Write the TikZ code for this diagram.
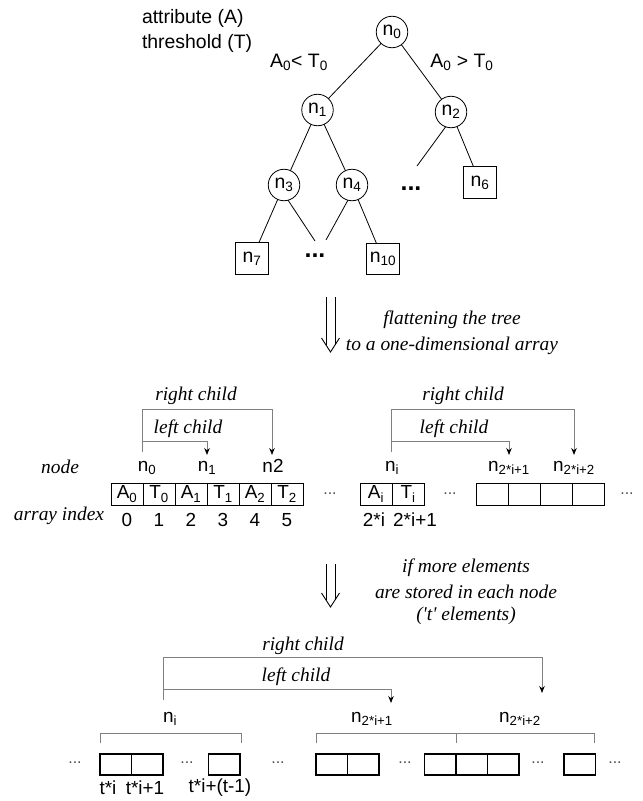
\documentclass[tikz,border=0pt]{standalone}
\usepackage{fontspec}
\setmainfont{Liberation Sans}
\newfontfamily\capfont{Liberation Serif}
\usetikzlibrary{arrows.meta}
\newcommand\subs[1]{\textsubscript{#1}}

\begin{document}
\begin{tikzpicture}[x=1bp,y=-1bp,
  every node/.style={inner sep=0pt,outer sep=0pt},
  treetxt/.style={font=\fontsize{19.5}{22}\selectfont},
  innernode/.style={treetxt,draw,circle,line width=0.8bp,minimum size=31.5bp},
  leafnode/.style={treetxt,draw,rectangle,line width=0.9bp,minimum width=33bp,minimum height=31.5bp},
  treeedge/.style={line width=0.8bp},
  tdots/.style={font=\fontsize{25}{26}\selectfont\bfseries},
  captxt/.style={font=\capfont\itshape\fontsize{19.5}{22}\selectfont},
  atxt/.style={font=\fontsize{19}{22}\selectfont},
  adots/.style={font=\fontsize{16}{18}\selectfont,text=black!70},
  cell/.style={atxt,draw,line width=0.9bp,minimum width=32bp,minimum height=22bp},
  bcell/.style={draw,line width=1.6bp,minimum width=31.5bp,minimum height=21bp},
  childlink/.style={draw=black!50,line width=1bp,-{Stealth[length=7bp,width=5.5bp,black]}},
  bracketline/.style={draw=black!50,line width=1bp},
  dbl/.style={line width=0.9bp}
  ]
\useasboundingbox (0,0) rectangle (643,801);

% ---------------- decision tree ----------------
\node[treetxt,anchor=west] (lblA) at (142,18) {attribute (A)};
\node[treetxt,anchor=west] (lblT) at (142,43) {threshold (T)};

\node[innernode] (n0) at (392,32) {n\subs{0}};
\node[innernode] (n1) at (317.5,110) {n\subs{1}};
\node[innernode] (n2) at (451,112) {n\subs{2}};
\node[innernode] (n3) at (284,185) {n\subs{3}};
\node[innernode] (n4) at (352,185) {n\subs{4}};
\node[tdots] (d1) at (411,189) {...};
\node[leafnode] (n6) at (480,182.5) {n\subs{6}};
\node[leafnode] (n7) at (252,258.5) {n\subs{7}};
\node[tdots] (d2) at (315,256) {...};
\node[leafnode] (n10) at (383,259) {n\subs{10}};

\node[treetxt] (cl) at (299,62) {A\subs{0}< T\subs{0}};
\node[treetxt] (cr) at (462,62) {A\subs{0} > T\subs{0}};

\coordinate (e2) at (417,166);
\coordinate (e3) at (315,241);
\coordinate (e4) at (326,240);

\draw[treeedge] (n0) -- (n1);
\draw[treeedge] (n0) -- (n2);
\draw[treeedge] (n1) -- (n3);
\draw[treeedge] (n1) -- (n4);
\draw[treeedge] (n2.250) -- (e2);
\draw[treeedge] (n2) -- (n6);
\draw[treeedge] (n3) -- (n7);
\draw[treeedge] (n3.285) -- (e3);
\draw[treeedge] (n4.255) -- (e4);
\draw[treeedge] (n4) -- (n10);

% ---------------- first transition ----------------
\draw[dbl] (326,297) -- (326,345);
\draw[dbl] (335,297) -- (335,345);
\draw[dbl] (321.5,338) -- (330.5,352) -- (339.5,338);
\node[captxt] (f1) at (452,320) {flattening the tree};
\node[captxt] (f2) at (452,346) {to a one-dimensional array};

% ---------------- one-dimensional array ----------------
\node[captxt] (lnode) at (60,467) {node};
\node[captxt] (lidx) at (59,516) {array index};

\node[cell] (c0) at (127,494) {A\subs{0}};
\node[cell] (c1) at (159,494) {T\subs{0}};
\node[cell] (c2) at (191,494) {A\subs{1}};
\node[cell] (c3) at (223,494) {T\subs{1}};
\node[cell] (c4) at (255,494) {A\subs{2}};
\node[cell] (c5) at (287,494) {T\subs{2}};
\node[adots] (ad1) at (330,494) {...};
\node[cell] (ci0) at (376,494) {A\subs{i}};
\node[cell] (ci1) at (408,494) {T\subs{i}};
\node[adots] (ad2) at (450,494) {...};
\node[cell] (ce0) at (492,494) {};
\node[cell] (ce1) at (524,494) {};
\node[cell] (ce2) at (556,494) {};
\node[cell] (ce3) at (588,494) {};
\node[adots] (ad3) at (627,494) {...};

\node[atxt] (ln0) at (147,468) {n\subs{0}};
\node[atxt] (ln1) at (207,468) {n\subs{1}};
\node[atxt] (ln2) at (273,466) {n2};
\node[atxt] (lni) at (392,468) {n\subs{i}};
\node[atxt] (lnl) at (509,468) {n\subs{2*i+1}};
\node[atxt] (lnr) at (574,468) {n\subs{2*i+2}};

\foreach \k/\x in {0/127,1/159,2/191,3/223,4/255,5/287}
  \node[atxt] (ix\k) at (\x,520) {\k};
\node[atxt] (ixa) at (374,520) {2*i};
\node[atxt] (ixb) at (415,520) {2*i+1};

\coordinate (s0) at (142,452);
\coordinate (t1) at (207,455);
\coordinate (t2) at (272,455);
\node[captxt] (rc1) at (196,396) {right child};
\node[captxt] (lc1) at (188,429) {left child};
\draw[childlink] (s0) -- ++(0,-43) -| (t2);
\draw[childlink] (s0) -- ++(0,-11) -| (t1);

\coordinate (si) at (391,452);
\coordinate (tl) at (509,455);
\coordinate (tr) at (574,455);
\node[captxt] (rc2) at (463,396) {right child};
\node[captxt] (lc2) at (454,429) {left child};
\draw[childlink] (si) -- ++(0,-43) -| (tr);
\draw[childlink] (si) -- ++(0,-11) -| (tl);

% ---------------- second transition ----------------
\draw[dbl] (326,564) -- (326,600);
\draw[dbl] (335,564) -- (335,600);
\draw[dbl] (321.5,593) -- (330.5,607) -- (339.5,593);
\node[captxt] (g1) at (466,568) {if more elements};
\node[captxt] (g2) at (466,592) {are stored in each node};
\node[captxt] (g3) at (466,616) {('t' elements)};

% ---------------- t elements per node ----------------
\node[captxt] (rc3) at (303,646) {right child};
\node[captxt] (lc3) at (296,677) {left child};
\coordinate (sb) at (163,700);
\coordinate (tbl) at (391,703);
\coordinate (tbr) at (542,693);
\draw[childlink] (sb) -- ++(0,-43) -| (tbr);
\draw[childlink] (sb) -- ++(0,-11) -| (tbl);

\node[atxt] (bni) at (170,719) {n\subs{i}};
\node[atxt] (bnl) at (372,719) {n\subs{2*i+1}};
\node[atxt] (bnr) at (520,719) {n\subs{2*i+2}};

\draw[bracketline] (100,743) -- (100,733) -- (241,733) -- (241,743);
\draw[bracketline] (316,743) -- (316,733) -- (594,733) -- (594,743);
\draw[bracketline] (456,733) -- (456,743);

\node[bcell] (b0) at (115.75,764.5) {};
\node[bcell] (b1) at (147.25,764.5) {};
\node[bcell] (b2) at (224.25,764.5) {};
\node[bcell] (b3) at (331.75,764.5) {};
\node[bcell] (b4) at (363.25,764.5) {};
\node[bcell] (b5) at (440.25,764.5) {};
\node[bcell] (b6) at (471.75,764.5) {};
\node[bcell] (b7) at (503.25,764.5) {};
\node[bcell] (b8) at (579.75,764.5) {};
\foreach \k/\x in {1/75,2/187,3/278,4/405,5/538,6/615}
  \node[adots] (bd\k) at (\x,763) {...};

\node[atxt] (bt0) at (108,788) {t*i};
\node[atxt] (bt1) at (145,788) {t*i+1};
\node[atxt] (bt2) at (220,788) {t*i+(t-1)};
\end{tikzpicture}
\end{document}
